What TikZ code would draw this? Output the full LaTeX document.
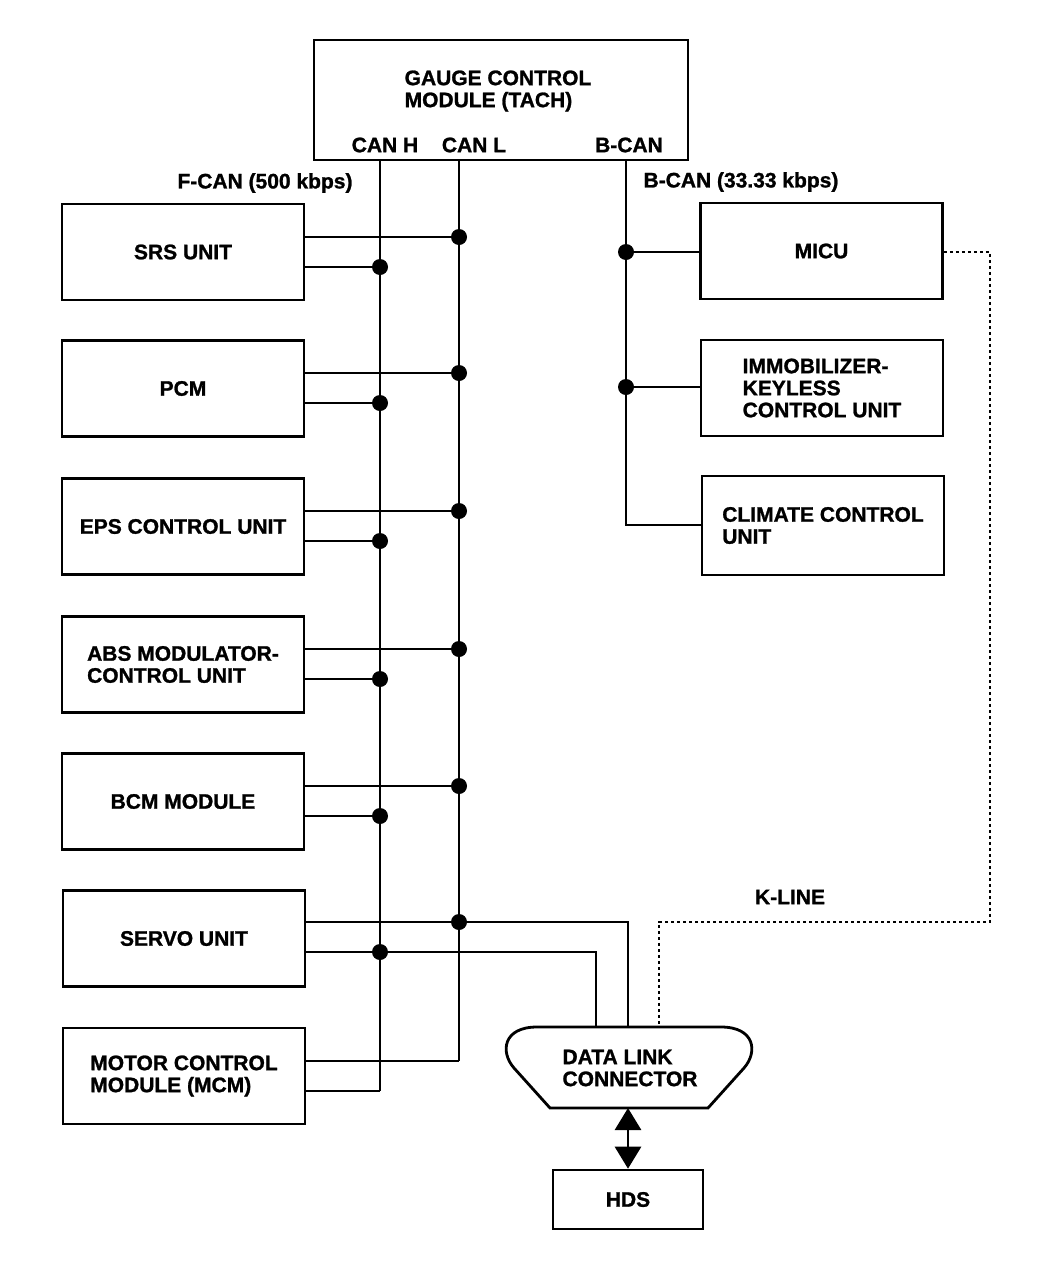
\documentclass[tikz,border=0pt]{standalone}
\usepackage{fontspec}
\setmainfont{Liberation Sans}[BoldFeatures={FakeBold=1.2}]
\usetikzlibrary{arrows.meta,calc}
\begin{document}
\begin{tikzpicture}[x=1pt,y=-1pt,
  every node/.style={font=\fontsize{21}{22}\selectfont\bfseries, inner sep=0pt},
  unit/.style={draw, line width=2.6pt, minimum width=242pt, minimum height=96pt, align=left},
  wire/.style={line width=2.8pt},
  junc/.style={circle, fill, minimum size=16pt, inner sep=0pt},
  kline/.style={line width=2.4pt, dash pattern=on 3.5pt off 2.5pt},
  bigarrow/.style={line width=2.8pt, {Triangle[width=26pt,length=22pt]}-{Triangle[width=26pt,length=22pt]}}]
\useasboundingbox (0,0) rectangle (1056,1264);

% gauge control module
\node[unit, minimum width=374pt, minimum height=120pt] (gcm) at (501,100) {};
\node[align=left] (gcmt) at (498,91) {GAUGE CONTROL\\MODULE (TACH)};
\node (canh) at (385,145) {CAN H};
\node (canl) at (474,145) {CAN L};
\node (bcan) at (629,145) {B-CAN};
\node (fcanl) at (265,183) {F-CAN (500 kbps)};
\node (bcanl) at (741,182) {B-CAN (33.33 kbps)};
\node (kl) at (790,897) {K-LINE};

% left units
\node[unit] (srs) at (183,252) {SRS UNIT};
\node[unit] (pcm) at (183,388.5) {PCM};
\node[unit] (eps) at (183,526.5) {EPS CONTROL UNIT};
\node[unit] (abs) at (183,664.5) {ABS MODULATOR-\\CONTROL UNIT};
\node[unit] (bcm) at (183,801.5) {BCM MODULE};
\node[unit] (servo) at (184,938.5) {SERVO UNIT};
\node[unit] (mcm) at (184,1076) {MOTOR CONTROL\\MODULE (MCM)};

% right units
\node[unit] (micu) at (821.5,251) {MICU};
\node[unit] (imm) at (822,388) {IMMOBILIZER-\\KEYLESS\\CONTROL UNIT};
\node[unit, minimum height=99pt] (clim) at (823,525.5) {CLIMATE CONTROL\\UNIT};

% data link connector and HDS
\node[align=left] (dlc) at (630,1068) {DATA LINK\\CONNECTOR};
\draw[wire] (550,1108) -- (514,1068) .. controls (500,1052) and (503,1027) .. (537,1027)
  -- (721,1027) .. controls (755,1027) and (758,1052) .. (744,1068) -- (708,1108) -- cycle;
\node[unit, minimum width=150pt, minimum height=59pt] (hds) at (628,1199.5) {HDS};
\coordinate (dlcs) at (628,1108);
\coordinate (d1) at (628,1027);
\coordinate (d2) at (596,1027);
\coordinate (d3) at (659,1027);
\draw[bigarrow] (dlcs) -- (hds.north);

% junctions on CAN L (x=459) and CAN H (x=380)
\foreach \n/\u/\ya/\yb in {1/srs/237/267, 2/pcm/373/403, 3/eps/511/541, 4/abs/649/679, 5/bcm/786/816, 6/servo/922/952}{
  \node[junc] (l\n) at (459,\ya) {};
  \node[junc] (h\n) at (380,\yb) {};
}
\coordinate (l7) at (459,1061);
\coordinate (h7) at (380,1091);

% CAN buses
\draw[wire] (gcm.south -| h7) -- (h7);
\draw[wire] (gcm.south -| l7) -- (l7);

% unit connections
\foreach \n/\u in {1/srs, 2/pcm, 3/eps, 4/abs, 5/bcm}{
  \draw[wire] (\u.east |- l\n) -- (l\n.center);
  \draw[wire] (\u.east |- h\n) -- (h\n.center);
}
\draw[wire] (servo.east |- l6) -- (d1 |- l6) -- (d1);
\draw[wire] (servo.east |- h6) -- (d2 |- h6) -- (d2);
\draw[wire] (mcm.east |- l7) -- (l7);
\draw[wire] (mcm.east |- h7) -- (h7);

% B-CAN bus
\node[junc] (b1) at (626,252) {};
\node[junc] (b2) at (626,387) {};
\coordinate (b3) at (626,525);
\draw[wire] (gcm.south -| b1) -- (b3) -- (clim.west |- b3);
\draw[wire] (b1.center) -- (micu.west |- b1);
\draw[wire] (b2.center) -- (imm.west |- b2);

% K-line
\coordinate (k1) at (990,252);
\coordinate (k2) at (990,922);
\draw[kline] (micu.east |- k1) -- (k1) -- (k2) -- (d3 |- k2) -- (d3);
\end{tikzpicture}
\end{document}
